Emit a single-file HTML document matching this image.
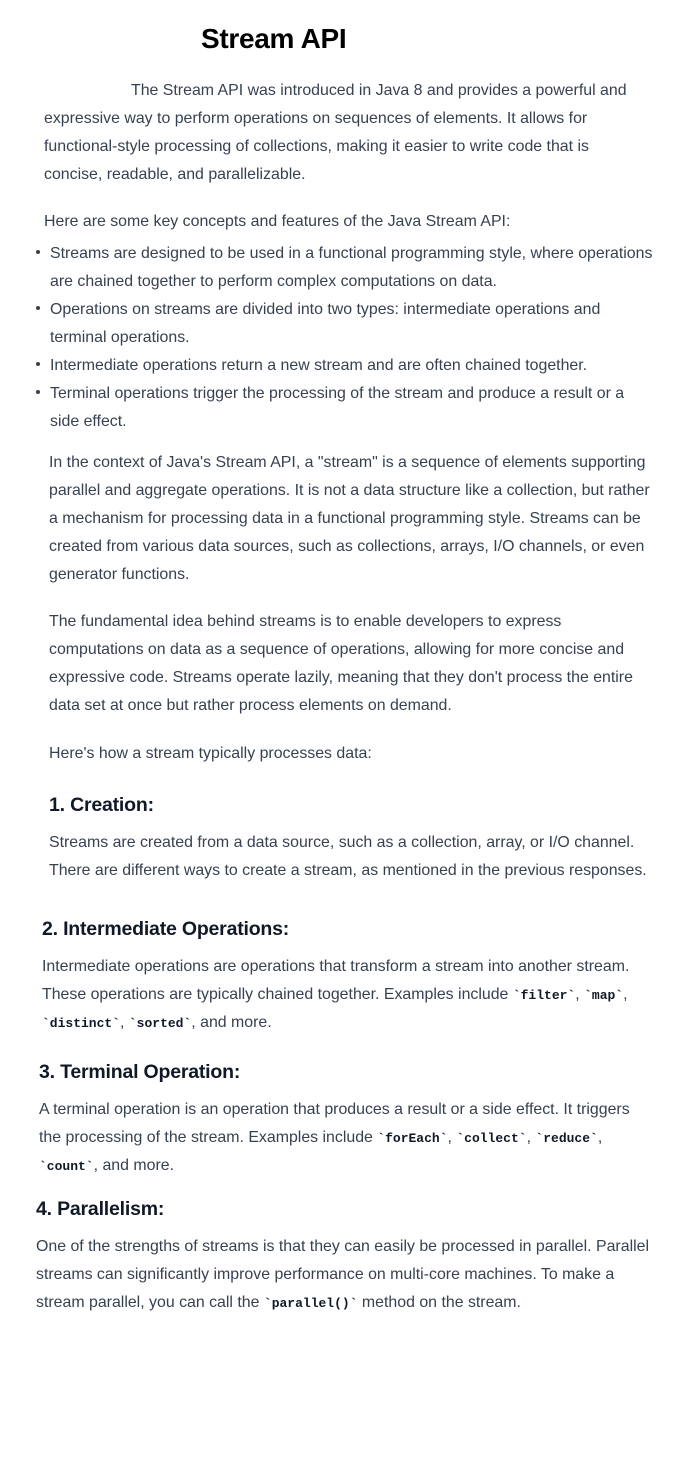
<!DOCTYPE html>
<html><head><meta charset="utf-8"><style>
body{margin:0;background:#fff;width:696px;height:1458px;position:relative;overflow:hidden;font-family:"Liberation Sans",sans-serif;}
.l{position:absolute;white-space:nowrap;font-size:15.9px;line-height:20px;height:20px;color:#374151;letter-spacing:0}
.h{position:absolute;white-space:nowrap;font-size:19.5px;line-height:24px;font-weight:bold;color:#111827;letter-spacing:-0.2px}
code{font-family:"Liberation Mono",monospace;font-weight:bold;font-size:13px;color:#111827;letter-spacing:0}
.d{position:absolute;left:36px;width:4px;height:4px;border-radius:50%;background:#374151}
</style></head><body>
<div style="position:absolute;left:201px;top:23px;font-size:28px;line-height:32px;font-weight:bold;color:#000;letter-spacing:-0.3px">Stream API</div>
<div class="l" style="left:131px;top:81px">The Stream API was introduced in Java 8 and provides a powerful and</div>
<div class="l" style="left:44px;top:109px">expressive way to perform operations on sequences of elements. It allows for</div>
<div class="l" style="left:44px;top:137px">functional-style processing of collections, making it easier to write code that is</div>
<div class="l" style="left:44px;top:165px">concise, readable, and parallelizable.</div>
<div class="l" style="left:44px;top:212px">Here are some key concepts and features of the Java Stream API:</div>
<div class="d" style="top:250px"></div>
<div class="l" style="left:50px;top:244px">Streams are designed to be used in a functional programming style, where operations</div>
<div class="l" style="left:50px;top:272px">are chained together to perform complex computations on data.</div>
<div class="d" style="top:306px"></div>
<div class="l" style="left:50px;top:300px">Operations on streams are divided into two types: intermediate operations and</div>
<div class="l" style="left:50px;top:328px">terminal operations.</div>
<div class="d" style="top:362px"></div>
<div class="l" style="left:50px;top:356px">Intermediate operations return a new stream and are often chained together.</div>
<div class="d" style="top:390px"></div>
<div class="l" style="left:50px;top:384px">Terminal operations trigger the processing of the stream and produce a result or a</div>
<div class="l" style="left:50px;top:412px">side effect.</div>
<div class="l" style="left:49px;top:453px">In the context of Java's Stream API, a "stream" is a sequence of elements supporting</div>
<div class="l" style="left:49px;top:481px">parallel and aggregate operations. It is not a data structure like a collection, but rather</div>
<div class="l" style="left:49px;top:509px">a mechanism for processing data in a functional programming style. Streams can be</div>
<div class="l" style="left:49px;top:537px">created from various data sources, such as collections, arrays, I/O channels, or even</div>
<div class="l" style="left:49px;top:565px">generator functions.</div>
<div class="l" style="left:49px;top:612px">The fundamental idea behind streams is to enable developers to express</div>
<div class="l" style="left:49px;top:640px">computations on data as a sequence of operations, allowing for more concise and</div>
<div class="l" style="left:49px;top:668px">expressive code. Streams operate lazily, meaning that they don't process the entire</div>
<div class="l" style="left:49px;top:696px">data set at once but rather process elements on demand.</div>
<div class="l" style="left:49px;top:744px">Here's how a stream typically processes data:</div>
<div class="h" style="left:49px;top:793px">1. Creation:</div>
<div class="l" style="left:49px;top:833px">Streams are created from a data source, such as a collection, array, or I/O channel.</div>
<div class="l" style="left:49px;top:861px">There are different ways to create a stream, as mentioned in the previous responses.</div>
<div class="h" style="left:42px;top:917px">2. Intermediate Operations:</div>
<div class="l" style="left:42px;top:957px">Intermediate operations are operations that transform a stream into another stream.</div>
<div class="l" style="left:42px;top:985px">These operations are typically chained together. Examples include <code>`filter`</code>, <code>`map`</code>,</div>
<div class="l" style="left:42px;top:1013px"><code>`distinct`</code>, <code>`sorted`</code>, and more.</div>
<div class="h" style="left:39px;top:1060px">3. Terminal Operation:</div>
<div class="l" style="left:39px;top:1100px">A terminal operation is an operation that produces a result or a side effect. It triggers</div>
<div class="l" style="left:39px;top:1128px">the processing of the stream. Examples include <code>`forEach`</code>, <code>`collect`</code>, <code>`reduce`</code>,</div>
<div class="l" style="left:39px;top:1156px"><code>`count`</code>, and more.</div>
<div class="h" style="left:36px;top:1197px">4. Parallelism:</div>
<div class="l" style="left:36px;top:1237px">One of the strengths of streams is that they can easily be processed in parallel. Parallel</div>
<div class="l" style="left:36px;top:1265px">streams can significantly improve performance on multi-core machines. To make a</div>
<div class="l" style="left:36px;top:1293px">stream parallel, you can call the <code>`parallel()`</code> method on the stream.</div>
</body></html>
